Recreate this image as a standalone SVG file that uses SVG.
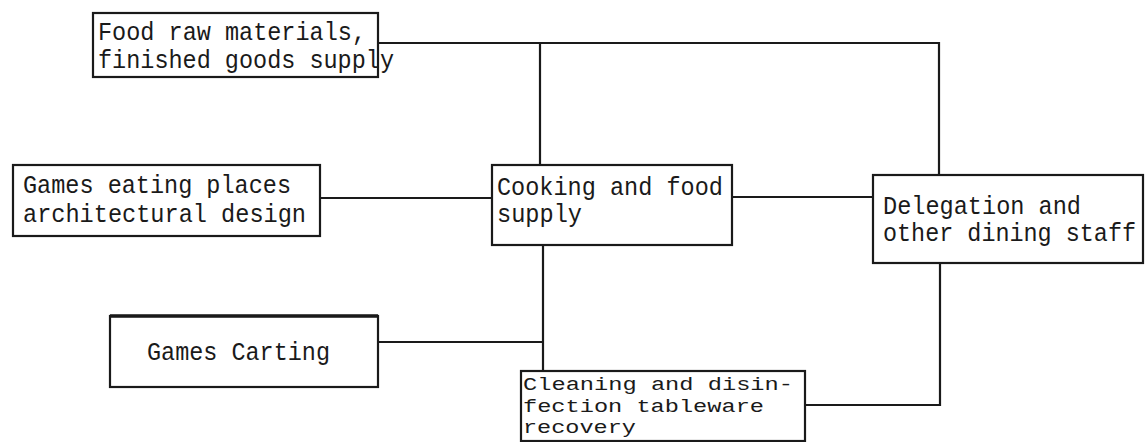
<svg xmlns="http://www.w3.org/2000/svg" width="1146" height="442" viewBox="0 0 1146 442">
<style>
.box{fill:#fff;stroke:#1a1a1a;stroke-width:2.2}
.ln{fill:none;stroke:#1a1a1a;stroke-width:2.2}
text{font-family:"Liberation Mono","DejaVu Sans Mono",monospace;font-size:25px;fill:#1a1a1a}
.sm{font-size:19px}
</style>
<rect width="1146" height="442" fill="#fff"/>
<g id="connectors">
<polyline class="ln" points="378,43 939,43 939,175"/>
<line class="ln" x1="540" y1="43" x2="540" y2="165"/>
<line class="ln" x1="320" y1="198" x2="492" y2="198"/>
<line class="ln" x1="732" y1="197" x2="873" y2="197"/>
<line class="ln" x1="543" y1="245" x2="543" y2="371"/>
<line class="ln" x1="378" y1="342" x2="543" y2="342"/>
<polyline class="ln" points="940,263 940,405 805,405"/>
</g>
<g id="food-supply">
<rect class="box" x="93" y="13" width="285" height="64"/>
<text x="98" y="40" textLength="268" lengthAdjust="spacingAndGlyphs">Food raw materials,</text>
<text x="98" y="68" textLength="296" lengthAdjust="spacingAndGlyphs">finished goods supply</text>
</g>
<g id="architectural-design">
<rect class="box" x="13" y="165" width="307" height="71"/>
<text x="23" y="193" textLength="268" lengthAdjust="spacingAndGlyphs">Games eating places</text>
<text x="23" y="222" textLength="283" lengthAdjust="spacingAndGlyphs">architectural design</text>
</g>
<g id="cooking">
<rect class="box" x="492" y="165" width="240" height="80"/>
<text x="497" y="195" textLength="226" lengthAdjust="spacingAndGlyphs">Cooking and food</text>
<text x="497" y="222" textLength="85" lengthAdjust="spacingAndGlyphs">supply</text>
</g>
<g id="delegation">
<rect class="box" x="873" y="175" width="270" height="88"/>
<text x="883" y="214" textLength="198" lengthAdjust="spacingAndGlyphs">Delegation and</text>
<text x="883" y="241" textLength="253" lengthAdjust="spacingAndGlyphs">other dining staff</text>
</g>
<g id="carting">
<rect class="box" x="110" y="316" width="268" height="71"/>
<line x1="110" y1="316" x2="378" y2="316" stroke="#1a1a1a" stroke-width="3.5"/>
<text x="147" y="360" textLength="183" lengthAdjust="spacingAndGlyphs">Games Carting</text>
</g>
<g id="cleaning">
<rect class="box" x="521" y="371" width="284" height="70"/>
<text class="sm" x="523" y="390" textLength="270" lengthAdjust="spacingAndGlyphs">Cleaning and disin-</text>
<text class="sm" x="523" y="412" textLength="241" lengthAdjust="spacingAndGlyphs">fection tableware</text>
<text class="sm" x="523" y="433" textLength="113" lengthAdjust="spacingAndGlyphs">recovery</text>
</g>
</svg>
